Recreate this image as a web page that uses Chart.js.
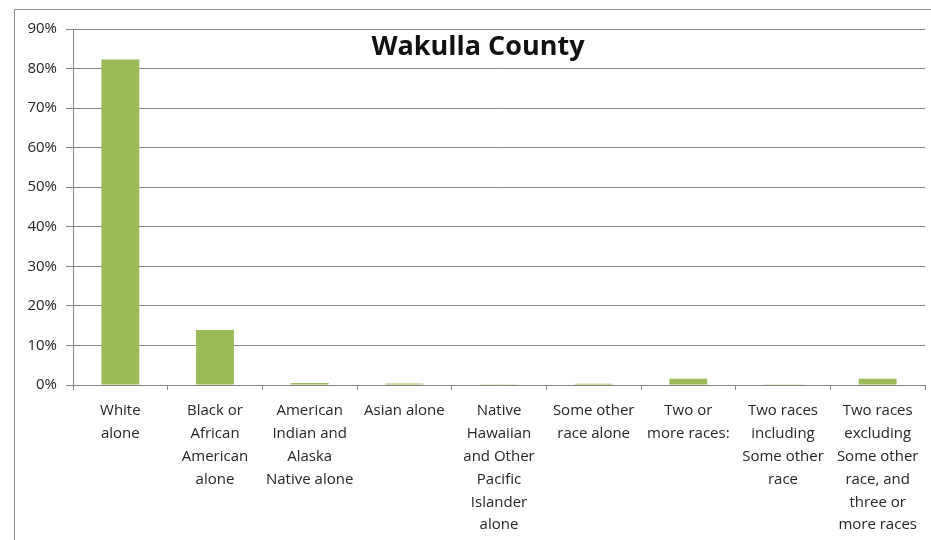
<!DOCTYPE html>
<html>
<head>
<meta charset="utf-8">
<title>Wakulla County</title>
<script src="https://cdn.jsdelivr.net/npm/chart.js@4/dist/chart.umd.min.js"></script>
<style>
  html, body { margin: 0; padding: 0; background: #fff; }
  #wrap { width: 931px; height: 540px; position: relative; }
</style>
</head>
<body>
<div id="wrap"><canvas id="chart" width="931" height="540"></canvas></div>
<script>
// race categories, one multi-line label each
const categories = [
  ["White", "alone"],
  ["Black or", "African", "American", "alone"],
  ["American", "Indian and", "Alaska", "Native alone"],
  ["Asian alone"],
  ["Native", "Hawaiian", "and Other", "Pacific", "Islander", "alone"],
  ["Some other", "race alone"],
  ["Two or", "more races:"],
  ["Two races", "including", "Some other", "race"],
  ["Two races", "excluding", "Some other", "race, and", "three or", "more races"]
];
// share of population, percent
const shares = [82.3, 13.9, 0.5, 0.4, 0.05, 0.3, 1.6, 0.05, 1.6];
const yTicks = [0, 10, 20, 30, 40, 50, 60, 70, 80, 90];
const chartTitle = "Wakulla County";

const FONT = "'Open Sans', 'Liberation Sans', sans-serif";

// outer frame and the title inside the plot
const framePlugin = {
  id: "frame",
  beforeDraw(chart) {
    const ctx = chart.ctx;
    ctx.save();
    ctx.strokeStyle = "#8c8c8c";
    ctx.lineWidth = 1;
    ctx.beginPath();
    ctx.moveTo(14.5, 540);
    ctx.lineTo(14.5, 9.5);
    ctx.lineTo(931, 9.5);
    ctx.stroke();
    ctx.restore();
  },
  afterDatasetsDraw(chart) {
    const ctx = chart.ctx;
    ctx.save();
    ctx.font = "bold 27px " + FONT;
    ctx.fillStyle = "#111";
    ctx.textAlign = "center";
    ctx.textBaseline = "alphabetic";
    ctx.fillText(chartTitle, 478, 55);
    ctx.restore();
  }
};

new Chart(document.getElementById("chart"), {
  type: "bar",
  data: {
    labels: categories,
    datasets: [{
      data: shares,
      backgroundColor: "#9bbb59",
      borderWidth: 0,
      categoryPercentage: 1,
      barPercentage: 0.4
    }]
  },
  options: {
    responsive: false,
    animation: false,
    layout: { padding: { left: 0, right: 6, top: 29, bottom: 0 } },
    plugins: {
      legend: { display: false },
      tooltip: { enabled: false }
    },
    scales: {
      x: {
        grid: {
          offset: true,
          drawOnChartArea: false,
          drawTicks: true,
          tickLength: 5,
          color: "#868686"
        },
        border: { color: "#868686", width: 1 },
        ticks: {
          maxRotation: 0,
          autoSkip: false,
          padding: 9,
          color: "#262626",
          font: { family: FONT, size: 15, lineHeight: 1.53 }
        },
        afterFit(scale) { scale.height = 155; }
      },
      y: {
        min: 0,
        max: 90,
        afterBuildTicks(scale) { scale.ticks = yTicks.map(v => ({ value: v })); },
        grid: { color: "#868686", tickLength: 7 },
        border: { color: "#868686", width: 1 },
        ticks: {
          padding: 9,
          color: "#262626",
          font: { family: FONT, size: 15 },
          callback: v => v + "%"
        },
        afterFit(scale) { scale.width = 73; }
      }
    }
  },
  plugins: [framePlugin]
});
</script>
</body>
</html>
